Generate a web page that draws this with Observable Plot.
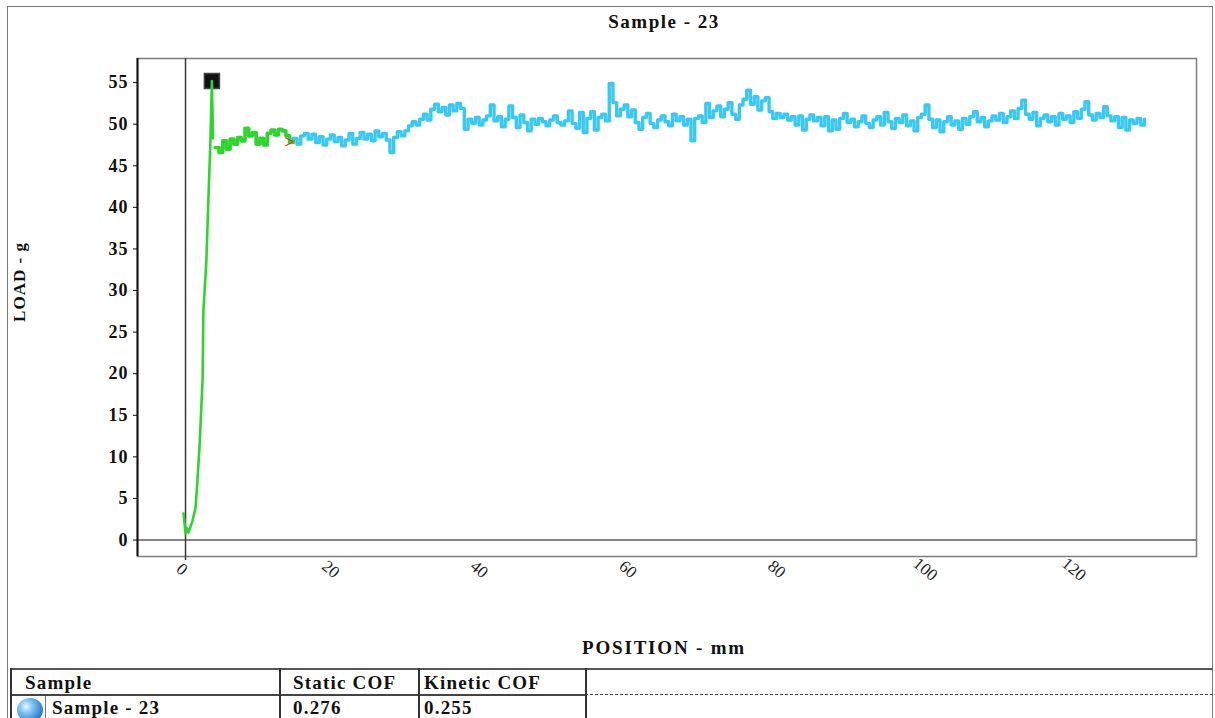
<!DOCTYPE html>
<html>
<head>
<meta charset="utf-8">
<script src="https://cdn.jsdelivr.net/npm/d3@7"></script>
<script src="https://cdn.jsdelivr.net/npm/@observablehq/plot@0.6"></script>
<style>
  body { margin: 0; background: #fff; }
  #wrap { position: relative; width: 1215px; height: 718px; overflow: hidden;
          font-family: "Liberation Serif", "Times New Roman", serif; color: #111; }
  .abs { position: absolute; }
  .txt { font-weight: bold; white-space: nowrap; }
  .hl { position: absolute; height: 0; }
  .vl { position: absolute; width: 0; }
  #chart svg g[aria-label="y-axis tick label"] text { letter-spacing: 1px; }
</style>
</head>
<body>
<div id="wrap">
  <div id="chart" class="abs" style="left:0;top:0"></div>

  <!-- outer panel border -->
  <div class="abs" style="left:7px;top:6px;width:1206px;height:760px;border:1px solid #7a7a7a;box-sizing:border-box"></div>

  <div class="abs txt" style="left:564px;top:12px;width:200px;text-align:center;font-size:19px;line-height:20px;letter-spacing:1.5px">Sample - 23</div>
  <div class="abs txt" style="left:-40px;top:272px;width:120px;text-align:center;font-size:17px;line-height:20px;letter-spacing:1px;transform:rotate(-90deg)">LOAD - g</div>
  <div class="abs txt" style="left:514px;top:638px;width:300px;text-align:center;font-size:19px;line-height:20px;letter-spacing:1.8px">POSITION - mm</div>

  <!-- results table -->
  <div class="hl" style="left:10px;top:668px;width:1203px;border-top:2px solid #555"></div>
  <div class="hl" style="left:10px;top:694px;width:575px;border-top:2px solid #444"></div>
  <div class="hl" style="left:585px;top:694px;width:628px;border-top:1px dashed #444"></div>
  <div class="vl" style="left:10px;top:668px;height:60px;border-left:2px solid #333"></div>
  <div class="vl" style="left:279px;top:668px;height:60px;border-left:2px solid #333"></div>
  <div class="vl" style="left:418px;top:668px;height:60px;border-left:2px solid #333"></div>
  <div class="vl" style="left:585px;top:668px;height:60px;border-left:2px solid #333"></div>
  <div class="vl" style="left:45px;top:696px;height:30px;border-left:1px solid #777"></div>
  <div class="abs" style="left:17px;top:698px;width:26px;height:24px;border-radius:50%;background:radial-gradient(circle at 35% 35%, #e8f6ff 0%, #7cc3f2 30%, #2f7fd6 70%, #1b55a8 100%)"></div>

  <div id="tbl"></div>
</div>

<script>
// Load trace of the sled: initial ramp up to the static peak
const rampPos  = [-0.27, 0.0, 0.13, 0.4, 0.94, 1.35, 1.6, 1.9, 2.3, 2.4, 2.8, 3.1, 3.35, 3.55, 3.7];
const rampLoad = [3.2, 0.8, 1.5, 0.9, 2.3, 3.9, 7.1, 11.5, 19.4, 27.5, 33.5, 41.6, 48.0, 55.2, 48.3];

// Fixed sampling interval of the recorded trace (mm)
const sampleStep = 0.5;

// Static section after the peak (green), from 4.0 mm
const greenStart = 4.0;
const greenLoad = [47.2, 46.6, 48.0, 47.0, 48.2, 47.6, 48.4, 48.0, 49.5, 48.6, 49.0,
                   47.6, 48.3, 47.5, 48.9, 49.3, 48.7, 49.4, 49.2, 48.6, 47.8, 48.2];

// Kinetic section (cyan), from 14.5 mm to 129 mm
const cyanStart = 14.5;
const cyanLoad = [
  // 14.5 - 29.5
  48.3, 47.6, 48.6, 48.9, 48.2, 48.8, 47.8, 48.5, 47.5, 48.2, 48.7, 47.9, 48.4, 47.4, 48.1, 48.9,
  47.6, 48.3, 49.0, 48.2, 48.8, 48.0, 49.2, 48.5, 48.9, 48.1, 46.6, 48.4, 49.1, 48.6, 49.2,
  // 30.0 - 37.0
  49.8, 50.3, 49.9, 50.6, 51.2, 50.5, 51.8, 52.4, 51.5, 52.0, 51.1, 52.3, 51.6, 52.5, 51.9,
  // 37.5 - 56.5
  49.4, 50.6, 50.1, 50.8, 49.9, 50.5, 51.0, 52.3, 50.4, 50.9, 49.7, 50.6, 52.2, 50.8, 49.6, 51.1,
  50.2, 49.2, 50.6, 50.0, 50.7, 50.3, 49.8, 50.5, 51.0, 50.2, 49.9, 50.4, 51.6, 50.1, 49.5, 51.4,
  49.0, 50.7, 51.5, 49.3, 50.8, 51.2, 50.4,
  // 57.0 - 59.0
  54.9, 52.6, 51.0, 51.8, 52.3,
  // 59.5 - 69.5
  50.9, 51.7, 50.2, 49.4, 50.8, 51.3, 50.1, 49.6, 50.5, 51.0, 50.3, 49.8, 51.2, 50.4, 50.9, 49.9,
  50.6, 48.0, 50.7, 51.0, 50.2,
  // 70.0 - 79.5
  52.5, 50.8, 51.6, 52.2, 50.9, 51.8, 52.6, 51.2, 50.6, 52.3, 53.0, 54.1, 52.4, 53.3, 51.7, 52.8,
  53.2, 51.5, 50.7, 51.3,
  // 80.0 - 129.0
  50.8, 51.2, 50.5, 50.9, 49.9, 51.0, 49.3, 50.6, 51.1, 50.4,
  50.8, 49.8, 50.9, 49.2, 50.5, 49.4, 50.7, 51.3, 50.2, 50.6,
  49.7, 50.3, 51.0, 50.1, 49.6, 50.5, 50.9, 49.9, 51.4, 50.3,
  49.5, 50.7, 50.2, 51.1, 49.8, 50.4, 49.2, 50.8, 51.2, 52.3,
  50.6, 49.6, 50.5, 49.1, 50.3, 50.9, 49.9, 50.4, 49.4, 50.7,
  50.0, 50.9, 51.5, 50.3, 50.8, 49.7, 50.4, 51.0, 50.5, 51.3,
  50.2, 50.9, 51.6, 50.7, 51.9, 52.9, 51.2, 50.6, 51.4, 49.8,
  50.7, 51.1, 50.3, 50.9, 49.9, 51.3, 50.6, 51.0, 50.2, 51.5,
  50.7, 51.8, 52.7, 51.1, 50.5, 51.3, 50.8, 52.1, 51.0, 50.4,
  50.9, 49.6, 50.8, 49.3, 50.5, 50.1, 50.7, 49.9, 50.6
];

// Static peak and end of the static window
const peakPos = 3.55, peakLoad = 55.2;
const endPos = 14.0, endLoad = 47.9;

// Axis ticks
const yTicks = [0, 5, 10, 15, 20, 25, 30, 35, 40, 45, 50, 55];
const xTicks = [0, 20, 40, 60, 80, 100, 120];

// Results table
const tableHeader = ["Sample", "Static COF", "Kinetic COF"];
const tableRow = ["Sample - 23", "0.276", "0.255"];

const ramp = rampPos.map((x, i) => ({x, y: rampLoad[i]}));
const green = greenLoad.map((y, i) => ({x: greenStart + i * sampleStep, y}));
const cyan = cyanLoad.map((y, i) => ({x: cyanStart + i * sampleStep, y}));

const xDomain = [-6.46, 136.0];
const greenColor = "#2fd42f";
const cyanColor = "#38c8f2";

const chart = Plot.plot({
  width: 1215,
  height: 718,
  marginLeft: 137,
  marginRight: 19,
  marginTop: 58,
  marginBottom: 162,
  x: {domain: xDomain, axis: null},
  y: {domain: [-1.98, 57.9], axis: null},
  style: {background: "transparent", color: "#111", fontFamily: '"Liberation Serif", serif', overflow: "visible"},
  marks: [
    Plot.frame({stroke: "#7d7d7d", strokeWidth: 1.5}),
    Plot.ruleY([0], {stroke: "#5a5a5a", strokeWidth: 1.5}),
    Plot.ruleX([0], {stroke: "#3a3a3a", strokeWidth: 1.5, insetBottom: -4}),
    Plot.ruleX([xDomain[0]], {stroke: "#111", strokeWidth: 2}),
    Plot.axisY(yTicks, {anchor: "left", tickSize: 4, tickPadding: 5, fontSize: 18, fontWeight: "bold", label: null, stroke: "#111"}),
    Plot.text(xTicks, {x: d => d, frameAnchor: "bottom", dy: 17, dx: -7, rotate: 40, text: d => String(d), fontSize: 17, fill: "#222"}),
    Plot.dot([{x: peakPos, y: peakLoad}], {x: "x", y: "y", symbol: "square", r: 8.5, fill: "#111", stroke: "#444"}),
    Plot.line(ramp, {x: "x", y: "y", stroke: greenColor, strokeWidth: 2.6}),
    Plot.line(green, {x: "x", y: "y", stroke: greenColor, strokeWidth: 3.6, curve: "step-after"}),
    Plot.line(cyan, {x: "x", y: "y", stroke: cyanColor, strokeWidth: 3.4, curve: "step-after"}),
    Plot.text([{x: endPos, y: endLoad}], {x: "x", y: "y", text: () => ">", fill: "#d4481e", fontSize: 19, fontWeight: "bold"})
  ]
});
document.getElementById("chart").appendChild(chart);

// Table cells
const tbl = document.getElementById("tbl");
const colX = [25, 293, 424];
const rowX = [52, 293, 424];
tableHeader.forEach((t, i) => {
  const d = document.createElement("div");
  d.className = "abs txt";
  d.style.cssText = `left:${colX[i]}px;top:672px;font-size:19px;line-height:22px;letter-spacing:1.2px`;
  d.textContent = t;
  tbl.appendChild(d);
});
tableRow.forEach((t, i) => {
  const d = document.createElement("div");
  d.className = "abs txt";
  d.style.cssText = `left:${rowX[i]}px;top:697px;font-size:19px;line-height:22px;letter-spacing:1.2px`;
  d.textContent = t;
  tbl.appendChild(d);
});
</script>
</body>
</html>
